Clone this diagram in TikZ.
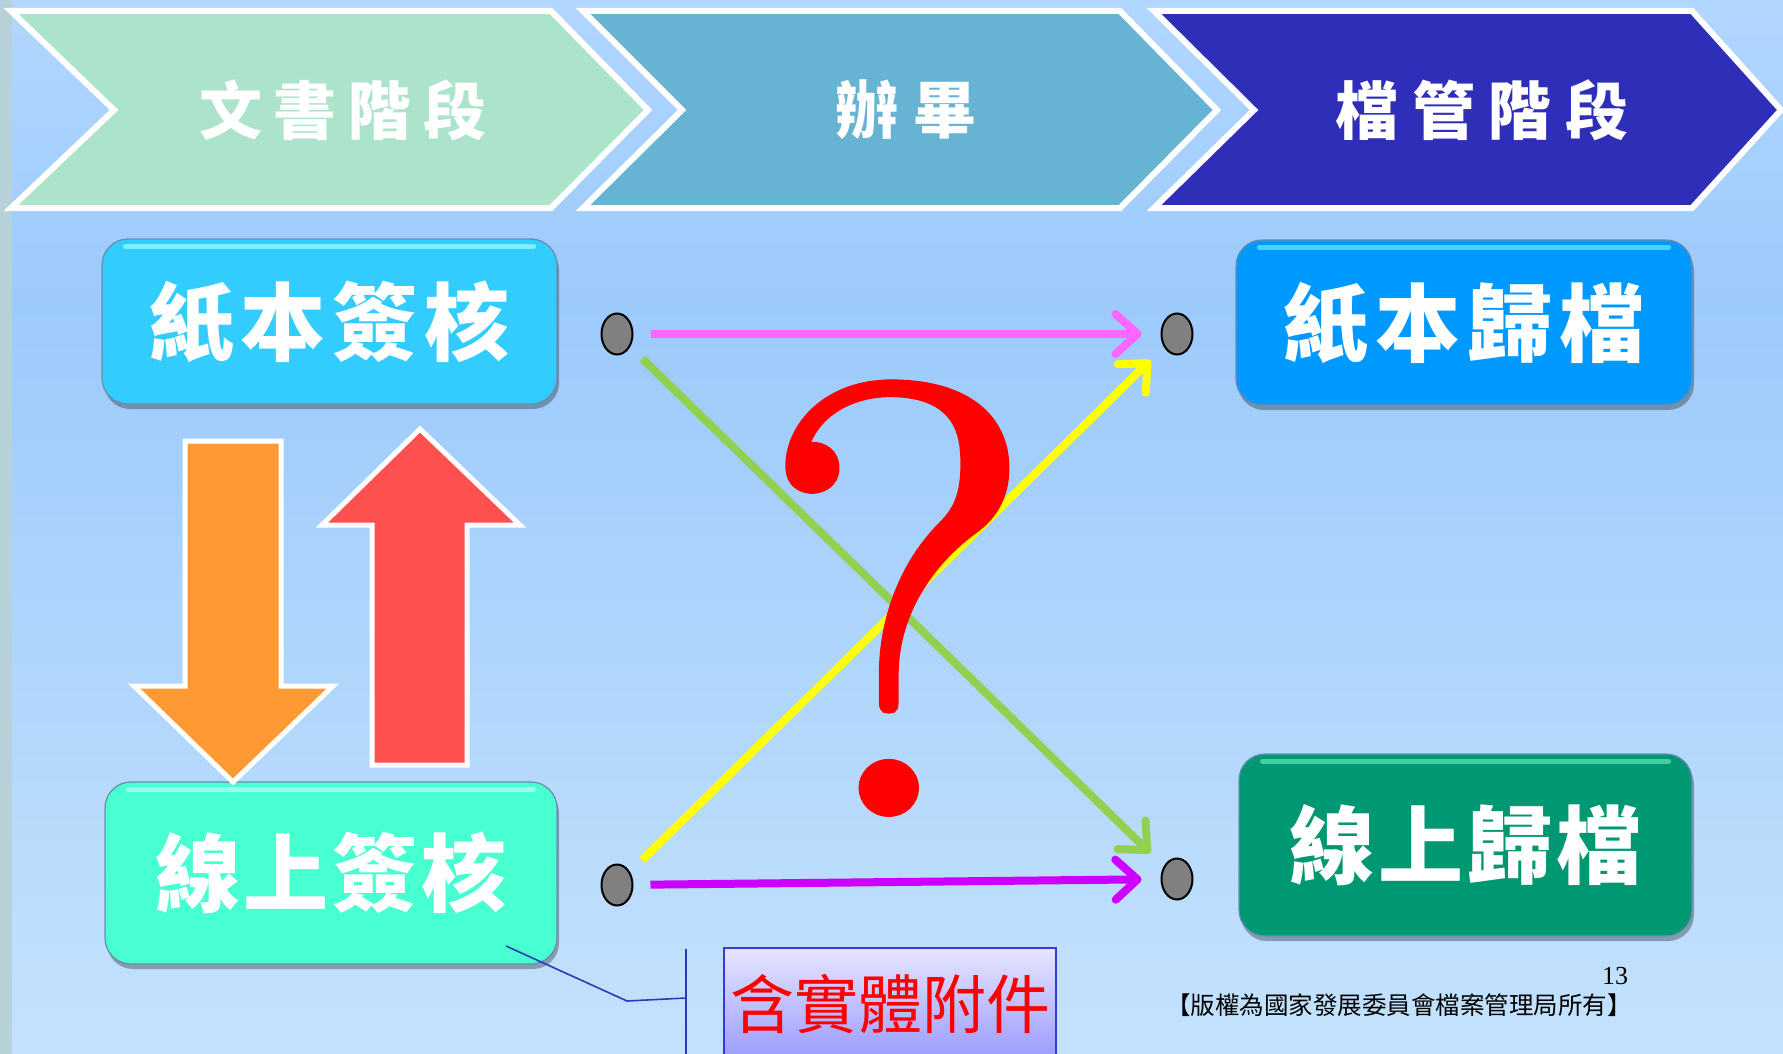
\documentclass[tikz,border=0pt]{standalone}
\usepackage{fontspec}
\newfontfamily\cjk{Noto Sans CJK TC}
\newfontfamily\serifnum{Liberation Serif}
\newfontfamily\lmq{Latin Modern Roman}[FakeBold=1.3]
\usetikzlibrary{arrows.meta,shadows,shapes.geometric}
\definecolor{bgtop}{HTML}{B2D7FF}
\definecolor{bgmid}{HTML}{9CCAFB}
\definecolor{bgbot}{HTML}{C4E2FD}
\definecolor{stripc}{HTML}{B6D2D8}
\definecolor{chevA}{HTML}{ACE3CB}
\definecolor{chevB}{HTML}{66B3D3}
\definecolor{chevC}{HTML}{2E2EB8}
\definecolor{boxA}{HTML}{33CCFF}
\definecolor{boxB}{HTML}{47FFD1}
\definecolor{boxC}{HTML}{0099FF}
\definecolor{boxD}{HTML}{009873}
\definecolor{hlA}{HTML}{8AF6FF}
\definecolor{hlB}{HTML}{A8FFEE}
\definecolor{hlC}{HTML}{55DDFF}
\definecolor{hlD}{HTML}{4FD8B0}
\definecolor{orangeA}{HTML}{FF9933}
\definecolor{redA}{HTML}{FF5050}
\definecolor{magc}{HTML}{FF66FF}
\definecolor{greenc}{HTML}{92D050}
\definecolor{yellowc}{HTML}{FFFF00}
\definecolor{purplec}{HTML}{CC00FF}
\definecolor{leaderc}{HTML}{2B3BB8}
\definecolor{calltop}{HTML}{E6E6FF}
\definecolor{callbot}{HTML}{9A9AFF}
\definecolor{callborder}{HTML}{3A3AD0}
\definecolor{boxborder}{HTML}{6A8CB0}
\begin{document}
\begin{tikzpicture}[x=1pt,y=-1pt,
  chev/.style={draw=white,line width=6pt,line join=miter},
  chevtext/.style={text=white,font=\cjk\bfseries\fontsize{63}{63}\selectfont,inner sep=0pt},
  box/.style={draw=boxborder,line width=1.2pt,rounded corners=26pt,inner sep=0pt,
    text=white,font=\cjk\bfseries\fontsize{85}{85}\selectfont,
    drop shadow={shadow xshift=2pt,shadow yshift=-5pt,opacity=0.3,fill=black}},
  hl/.style={line width=5pt,line cap=round,opacity=0.85},
  dot/.style={ellipse,draw=black,line width=2pt,fill=black!50,minimum width=31pt,minimum height=41pt,inner sep=0pt},
  conn/.style={line width=8pt,-{Straight Barb[length=22pt,width=40pt,round]},shorten <=17pt,shorten >=19pt},
  blockarrow/.style={draw=white,line width=5pt,line join=miter},
  qmark/.style={text=red,font=\lmq\fontsize{612}{612}\selectfont,inner sep=0pt,xscale=1.04},
  callbox/.style={draw=callborder,line width=2pt,top color=calltop,bottom color=callbot,
    minimum width=332pt,minimum height=112pt,inner sep=0pt,text=red,
    font=\cjk\fontsize{64}{64}\selectfont},
  leader/.style={draw=leaderc,line width=1.6pt},
  foot/.style={text=black,inner sep=0pt}]
\useasboundingbox (0,0) rectangle (1783,1054);
% background
\shade[top color=bgtop,bottom color=bgmid] (0,0) rectangle (1783,300);
\shade[top color=bgmid,bottom color=bgbot] (0,299.5) rectangle (1783,1054);
\fill[stripc] (0,0) rectangle (12,1054);
% chevrons
\draw[chev,fill=chevA] (11,11) -- (551,11) -- (648,110) -- (551,208) -- (11,208) -- (114,110) -- cycle;
\draw[chev,fill=chevB] (583,11) -- (1120,11) -- (1217,110) -- (1120,208) -- (583,208) -- (682,110) -- cycle;
\draw[chev,fill=chevC] (1154,11) -- (1692,11) -- (1781,110) -- (1692,208) -- (1154,208) -- (1254,110) -- cycle;
\node[chevtext] (t1) at (343,110) {文\hspace{12pt}書\hspace{12pt}階\hspace{12pt}段};
\node[chevtext] (t2) at (906,110) {辦\hspace{16pt}畢};
\node[chevtext] (t3) at (1482,110) {檔\hspace{14pt}管\hspace{14pt}階\hspace{14pt}段};
% boxes
\node[box,fill=boxA,minimum width=455pt,minimum height=165pt] (b1) at (329.5,321.5) {紙\hspace{7pt}本\hspace{7pt}簽\hspace{7pt}核};
\node[box,fill=boxB,minimum width=452pt,minimum height=182pt] (b2) at (331,873) {線\hspace{4pt}上\hspace{4pt}簽\hspace{4pt}核};
\node[box,fill=boxC,minimum width=456pt,minimum height=165pt] (b3) at (1464,322.5) {紙\hspace{7pt}本\hspace{7pt}歸\hspace{7pt}檔};
\node[box,fill=boxD,minimum width=453pt,minimum height=182pt] (b4) at (1465.5,845) {線\hspace{4pt}上\hspace{4pt}歸\hspace{4pt}檔};
\draw[hl,hlA] ([xshift=24pt,yshift=-8pt]b1.north west) -- ([xshift=-24pt,yshift=-8pt]b1.north east);
\draw[hl,hlB] ([xshift=24pt,yshift=-8pt]b2.north west) -- ([xshift=-24pt,yshift=-8pt]b2.north east);
\draw[hl,hlC] ([xshift=24pt,yshift=-8pt]b3.north west) -- ([xshift=-24pt,yshift=-8pt]b3.north east);
\draw[hl,hlD] ([xshift=24pt,yshift=-8pt]b4.north west) -- ([xshift=-24pt,yshift=-8pt]b4.north east);
% block arrows
\draw[blockarrow,fill=orangeA] (185,441) -- (281,441) -- (281,686) -- (333,686) -- (233,782) -- (134,686) -- (185,686) -- cycle;
\draw[blockarrow,fill=redA] (420,429) -- (520,525) -- (467,525) -- (467,765) -- (372,765) -- (372,525) -- (322,525) -- cycle;
% dots
\node[dot] (d1) at (617,334) {};
\node[dot] (d2) at (1177,334) {};
\node[dot] (d3) at (617,885) {};
\node[dot] (d4) at (1177,879) {};
% connectors
\draw[conn,greenc] (d1) -- (d4);
\draw[conn,yellowc] (d3) -- (d2);
\draw[conn,magc] (d1) -- (d2);
\draw[conn,purplec] (d3) -- (d4);
% question mark
\node[qmark,anchor=base] (q) at (898,813) {?};
% callout
\node[callbox] (cb) at (890,1004) {含實體附件};
\coordinate (lf) at (506,946);
\coordinate (lk) at (627,1001);
\coordinate (lb) at (686,998);
\coordinate (bt) at (686,949);
\coordinate (bb) at (686,1054);
\draw[leader] (lf) -- (lk) -- (lb);
\draw[leader] (bt) -- (bb);
% footer
\node[foot,font=\serifnum\fontsize{26}{26}\selectfont] (pg) at (1615,976) {13};
\node[foot,font=\cjk\fontsize{24.5}{25}\selectfont] (cp) at (1399,1005) {【版權為國家發展委員會檔案管理局所有】};
\end{tikzpicture}
\end{document}
